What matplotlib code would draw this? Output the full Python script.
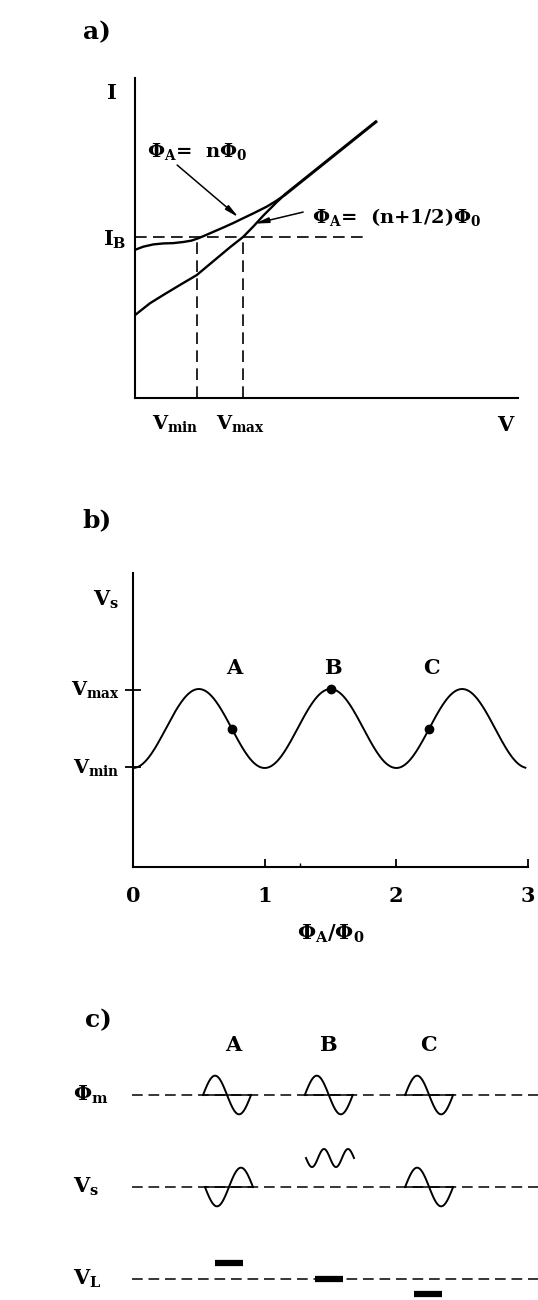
import numpy as np
import matplotlib
matplotlib.use('Agg')
import matplotlib.pyplot as plt

plt.rcParams['font.family'] = 'DejaVu Serif'
plt.rcParams['font.weight'] = 'bold'
plt.rcParams['mathtext.fontset'] = 'custom'
plt.rcParams['mathtext.rm'] = 'DejaVu Serif:bold'
plt.rcParams['mathtext.it'] = 'DejaVu Serif:bold'
plt.rcParams['mathtext.bf'] = 'DejaVu Serif:bold'

# --- a) I-V curves for the two flux states
v_n = [0, 0.22, 0.48, 0.74, 1.00, 1.26, 1.48, 1.65, 1.83, 2.04, 2.31, 2.57, 2.74,
       3.09, 3.44, 3.70, 3.89]
i_n = [4.63, 4.73, 4.80, 4.83, 4.84, 4.875, 4.92, 4.99, 5.08, 5.19, 5.33, 5.47, 5.57,
       5.77, 5.98, 6.17, 6.33]
v_half = [0, 0.39, 0.74, 1.17, 1.61, 1.87, 2.22, 2.48, 2.82, 3.09, 3.35, 3.70, 3.89]
i_half = [2.59, 2.96, 3.22, 3.53, 3.84, 4.10, 4.45, 4.71, 5.03, 5.36, 5.70, 6.12, 6.33]
v_ohmic = [3.89, 6.32]
i_ohmic = [6.33, 8.66]
I_B = 5.03
V_MIN = 1.62
V_MAX = 2.82

# --- b) V-Phi modulation
phi_ticks = [0, 1, 2, 3]
vs_min = 1.0
vs_max = 1.77
vs_mid = 1.385
vs_amp = 0.395
op_phi = [0.75, 1.5, 2.25]
op_names = ['A', 'B', 'C']

# --- c) lock-in signals (x in modulation periods)
row_levels = [0, -1, -2]
row_labels = [r'$\Phi_m$', r'$V_s$', r'$V_L$']
mod_start = [4.23, 6.35, 8.44]
vs_start = [4.27, 6.375, 8.44]
vs_sign = [-1, 0, 1]
vl_out = [0.174, 0.0, -0.163]
vl_center = [4.77, 6.85, 8.91]
name_x = [4.85, 6.83, 8.92]

W, H = 538, 1300
fig = plt.figure(figsize=(W / 100, H / 100), dpi=100)


def px_axes(left, top, right, bottom):
    return fig.add_axes([left / W, 1 - bottom / H, (right - left) / W, (bottom - top) / H])


def dashed(ax, x, y, lw=1.2):
    ax.plot(x, y, color='black', lw=lw, linestyle=(0, (7, 3.8)), clip_on=False)


# ---------------- a)
ax = px_axes(135, 78, 518, 398)
ax.set_xlim(0, 10)
ax.set_ylim(0, 10)
for s in ['top', 'right']:
    ax.spines[s].set_visible(False)
for s in ['left', 'bottom']:
    ax.spines[s].set_linewidth(1.5)
ax.set_xticks([])
ax.set_yticks([])

ax.plot(v_n, i_n, color='black', lw=1.7, solid_joinstyle='round')
ax.plot(v_half, i_half, color='black', lw=1.7, solid_joinstyle='round')
ax.plot(v_ohmic, i_ohmic, color='black', lw=2.2, solid_capstyle='butt')

dashed(ax, [0, 6.08], [I_B, I_B])
dashed(ax, [V_MIN, V_MIN], [0, I_B])
dashed(ax, [V_MAX, V_MAX], [0, I_B])

arrow = dict(arrowstyle='-|>,head_length=0.8,head_width=0.16', color='black', lw=1.1,
             shrinkA=0, shrinkB=0)
ax.annotate('', xy=(2.70, 5.65), xytext=(1.10, 7.28), arrowprops=arrow)
ax.annotate('', xy=(3.13, 5.45), xytext=(4.39, 5.81), arrowprops=arrow)
ax.text(0.31, 7.53, r'$\Phi_A$=  n$\Phi_0$', fontsize=14, va='baseline', ha='left')
ax.text(4.62, 5.47, r'$\Phi_A$=  (n+1/2)$\Phi_0$', fontsize=14, va='baseline', ha='left')

ax.text(-0.6, 9.53, 'I', fontsize=15, ha='center', va='center')
ax.text(-0.22, 4.94, r'$I_B$', fontsize=15, ha='right', va='center')
ax.text(9.66, -0.84, 'V', fontsize=15, ha='center', va='center')
ax.text(1.04, -0.81, r'$V_{min}$', fontsize=14, ha='center', va='center')
ax.text(2.74, -0.81, r'$V_{max}$', fontsize=14, ha='center', va='center')
fig.text(97 / W, 1 - 32 / H, 'a)', fontsize=18, ha='center', va='center')

# ---------------- b)
bx = px_axes(133, 573, 528, 867)
bx.set_xlim(0, 3)
bx.set_ylim(0, 2.94)
for s in ['top', 'right']:
    bx.spines[s].set_visible(False)
for s in ['left', 'bottom']:
    bx.spines[s].set_linewidth(1.5)

phi = np.linspace(0, 2.98, 400)
bx.plot(phi, vs_mid - vs_amp * np.cos(2 * np.pi * phi), color='black', lw=1.4)
op_v = [vs_mid - vs_amp * np.cos(2 * np.pi * p) for p in op_phi]
bx.plot(op_phi, op_v, 'o', color='black', ms=6)
for p, v, n in zip(op_phi, op_v, op_names):
    bx.text(p + 0.02, 1.99, n, fontsize=15, ha='center', va='center')

bx.set_yticks([vs_min, vs_max])
bx.set_yticklabels([])
bx.tick_params(axis='y', direction='inout', length=11, width=1.3)
bx.set_xticks(phi_ticks)
bx.set_xticklabels([str(t) for t in phi_ticks], fontsize=15)
bx.set_xticks([1.27], minor=True)
bx.tick_params(axis='x', which='major', direction='in', length=6, width=1.3, pad=14)
bx.tick_params(axis='x', which='minor', direction='in', length=3, width=1.0)
bx.text(-0.1, vs_max, r'$V_{max}$', fontsize=14, ha='right', va='center')
bx.text(-0.1, vs_min, r'$V_{min}$', fontsize=14, ha='right', va='center')
bx.text(-0.11, 2.67, r'$V_s$', fontsize=15, ha='right', va='center')
bx.set_xlabel(r'$\Phi_A/\Phi_0$', fontsize=15, labelpad=12)
fig.text(97 / W, 1 - 520 / H, 'b)', fontsize=18, ha='center', va='center')

# ---------------- c)
cx = px_axes(0, 1000, 538, 1300)
cx.set_xlim(0, W / 48)
cx.set_ylim(-(1300 - 1095) / 92, (1095 - 1000) / 92)
cx.axis('off')

amp = 0.21
t = np.linspace(0, 1, 120)
for lvl, lab in zip(row_levels, row_labels):
    dashed(cx, [2.75, W / 48], [lvl, lvl], lw=1.1)
    cx.text(1.52, lvl, lab, fontsize=15, ha='left', va='center')

for x0 in mod_start:
    cx.plot(x0 + t, amp * np.sin(2 * np.pi * t), color='black', lw=1.4)
    cx.plot([x0, x0 + 1], [0, 0], color='black', lw=1.1)

for x0, sg in zip(vs_start, vs_sign):
    if sg == 0:
        # second harmonic at the peak, drawn above the line
        cx.plot(x0 + t, -0.685 - 0.098 * np.sin(4 * np.pi * t), color='black', lw=1.4)
    else:
        cx.plot(x0 + t, -1 + sg * amp * np.sin(2 * np.pi * t), color='black', lw=1.4)
        cx.plot([x0, x0 + 1], [-1, -1], color='black', lw=1.1)

for xc, v in zip(vl_center, vl_out):
    cx.plot([xc - 0.29, xc + 0.29], [-2 + v, -2 + v], color='black', lw=4.5,
            solid_capstyle='butt')

for x, n in zip(name_x, op_names):
    cx.text(x, 0.54, n, fontsize=15, ha='center', va='center')
fig.text(98 / W, 1 - 1020 / H, 'c)', fontsize=18, ha='center', va='center')

fig.savefig('out.png', dpi=100)
